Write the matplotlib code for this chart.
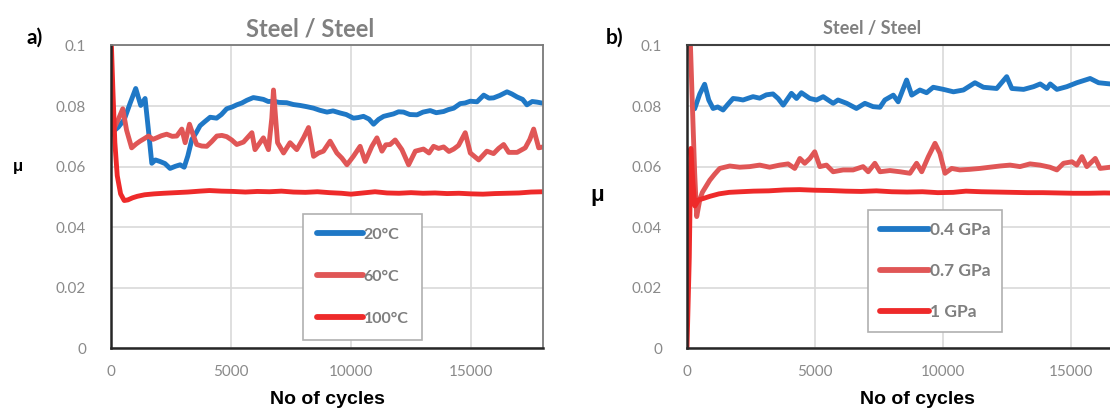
import matplotlib.pyplot as plt

# ---- data: (cycles, mu) ----
a_20C = [(0, 0.071), (300, 0.073), (550, 0.0755), (800, 0.081), (1030, 0.0858), (1240, 0.0802),
         (1420, 0.0825), (1560, 0.072), (1700, 0.0611), (1850, 0.0622), (2040, 0.0617), (2250, 0.0610),
         (2460, 0.0594), (2680, 0.0601), (2880, 0.0606), (3050, 0.0598), (3200, 0.0635), (3370, 0.0690),
         (3550, 0.0712), (3710, 0.0735), (3900, 0.0748), (4130, 0.0763), (4400, 0.0760), (4600, 0.0772),
         (4820, 0.0791), (5050, 0.0797), (5240, 0.0804), (5450, 0.0810), (5660, 0.0819), (5930, 0.0828),
         (6150, 0.0825), (6350, 0.0822), (6550, 0.0815), (6770, 0.0816), (7000, 0.0812), (7320, 0.0811),
         (7600, 0.0805), (7880, 0.0802), (8150, 0.0798), (8440, 0.0793), (8700, 0.0786), (9000, 0.0780),
         (9250, 0.0784), (9550, 0.0777), (9800, 0.0772), (10100, 0.0760), (10300, 0.0762), (10520, 0.0766),
         (10750, 0.0757), (10940, 0.0740), (11150, 0.0756), (11360, 0.0766), (11560, 0.0770), (11770, 0.0774),
         (11980, 0.0781), (12190, 0.0780), (12450, 0.0772), (12750, 0.0771), (13000, 0.0780), (13300, 0.0785),
         (13550, 0.0778), (13860, 0.0782), (14050, 0.0788), (14280, 0.0793), (14550, 0.0808), (14750, 0.0810),
         (14970, 0.0816), (15250, 0.0814), (15530, 0.0836), (15750, 0.0826), (15940, 0.0827), (16200, 0.0835),
         (16500, 0.0847), (16700, 0.0840), (16920, 0.0830), (17150, 0.0822), (17330, 0.0804), (17550, 0.0815),
         (17750, 0.0813), (17950, 0.0810)]

a_60C = [(0, 0.0705), (150, 0.073), (300, 0.0755), (490, 0.0791), (650, 0.072), (860, 0.0662), (1050, 0.0675),
         (1210, 0.0684), (1380, 0.0692), (1560, 0.0701), (1750, 0.0690), (1900, 0.0695), (2100, 0.0702),
         (2320, 0.0707), (2550, 0.0700), (2740, 0.0701), (2950, 0.0724), (3090, 0.0679), (3270, 0.0740),
         (3420, 0.0705), (3570, 0.0673), (3780, 0.0668), (3990, 0.0667), (4200, 0.0683), (4410, 0.0701),
         (4620, 0.0703), (4820, 0.0699), (5030, 0.0688), (5240, 0.0673), (5520, 0.0681), (5870, 0.0712),
         (6000, 0.0656), (6350, 0.0695), (6560, 0.0656), (6700, 0.0760), (6770, 0.0853), (6860, 0.0760),
         (6940, 0.0679), (7190, 0.0645), (7460, 0.0679), (7740, 0.0656), (8020, 0.0695), (8230, 0.0729),
         (8440, 0.0634), (8650, 0.0645), (8850, 0.0651), (9130, 0.0684), (9410, 0.0645), (9620, 0.0628),
         (9830, 0.0606), (10100, 0.0634), (10380, 0.0667), (10590, 0.0617), (10870, 0.0667), (11080, 0.0695),
         (11290, 0.0651), (11450, 0.0672), (11630, 0.0673), (11840, 0.0688), (12120, 0.0656), (12400, 0.0606),
         (12680, 0.0651), (13020, 0.0658), (13250, 0.0645), (13440, 0.0667), (13650, 0.0660), (13860, 0.0665),
         (14080, 0.0650), (14280, 0.0658), (14480, 0.0670), (14760, 0.0712), (14970, 0.0645), (15320, 0.0622),
         (15660, 0.0651), (15940, 0.0643), (16150, 0.0660), (16360, 0.0673), (16570, 0.0647), (16920, 0.0647),
         (17260, 0.0662), (17450, 0.0690), (17610, 0.0724), (17820, 0.0662), (18000, 0.0665)]

a_100C = [(0, 0.104), (80, 0.085), (160, 0.068), (260, 0.057), (400, 0.051), (550, 0.0488), (700, 0.0490),
          (900, 0.0497), (1100, 0.0502), (1400, 0.0507), (1800, 0.0510), (2200, 0.0512), (2700, 0.0514),
          (3200, 0.0516), (3700, 0.0519), (4100, 0.0521), (4600, 0.0519), (5100, 0.0518), (5600, 0.0516),
          (6100, 0.0518), (6600, 0.0517), (7100, 0.0519), (7600, 0.0516), (8100, 0.0515), (8600, 0.0517),
          (9100, 0.0514), (9600, 0.0512), (10000, 0.0509), (10500, 0.0513), (11000, 0.0517), (11500, 0.0513),
          (12000, 0.0512), (12500, 0.0514), (13000, 0.0512), (13500, 0.0513), (14000, 0.0511), (14500, 0.0512),
          (15000, 0.0510), (15500, 0.0509), (16000, 0.0511), (16500, 0.0512), (17000, 0.0513), (17500, 0.0516),
          (18000, 0.0517)]

b_04GPa = [(300, 0.0791), (500, 0.0840), (690, 0.0872), (850, 0.0820), (1020, 0.0792), (1200, 0.0797),
           (1410, 0.0787), (1600, 0.0806), (1800, 0.0825), (2000, 0.0823), (2190, 0.0820), (2400, 0.0826),
           (2580, 0.0831), (2840, 0.0826), (3100, 0.0837), (3360, 0.0840), (3560, 0.0825), (3760, 0.0803),
           (4080, 0.0842), (4280, 0.0825), (4470, 0.0844), (4800, 0.0825), (5060, 0.0820), (5320, 0.0831),
           (5710, 0.0809), (5900, 0.0820), (6240, 0.0809), (6620, 0.0792), (6950, 0.0809), (7270, 0.0798),
           (7540, 0.0796), (7730, 0.0820), (8060, 0.0836), (8250, 0.0814), (8580, 0.0886), (8780, 0.0836),
           (9100, 0.0853), (9360, 0.0844), (9620, 0.0862), (10020, 0.0855), (10410, 0.0847), (10800, 0.0853),
           (11250, 0.0877), (11580, 0.0862), (12100, 0.0858), (12490, 0.0897), (12690, 0.0858), (13150, 0.0855),
           (13540, 0.0864), (13800, 0.0873), (14060, 0.0858), (14190, 0.0873), (14450, 0.0855), (14840, 0.0864),
           (15230, 0.0877), (15750, 0.0891), (16080, 0.0877), (16530, 0.0873), (17000, 0.0880), (17500, 0.0875),
           (18000, 0.0878)]

b_07GPa = [(120, 0.104), (220, 0.078), (300, 0.058), (380, 0.0435), (500, 0.049), (600, 0.0515), (890, 0.0555),
           (1080, 0.0575), (1280, 0.0594), (1670, 0.0602), (2060, 0.0598), (2450, 0.0600), (2840, 0.0605),
           (3230, 0.0598), (3620, 0.0605), (3950, 0.0609), (4210, 0.0594), (4410, 0.0627), (4600, 0.0611),
           (4800, 0.0627), (4990, 0.0649), (5190, 0.0600), (5450, 0.0605), (5710, 0.0583), (6100, 0.0589),
           (6490, 0.0589), (6880, 0.0600), (7080, 0.0583), (7340, 0.0611), (7540, 0.0583), (7930, 0.0587),
           (8320, 0.0583), (8710, 0.0578), (8970, 0.0611), (9170, 0.0583), (9430, 0.0633), (9690, 0.0677),
           (9880, 0.0644), (10080, 0.0578), (10340, 0.0594), (10660, 0.0589), (11050, 0.0591), (11440, 0.0594),
           (11830, 0.0598), (12230, 0.0602), (12620, 0.0605), (13010, 0.0600), (13400, 0.0609), (13790, 0.0605),
           (14180, 0.0598), (14450, 0.0589), (14710, 0.0611), (15040, 0.0616), (15230, 0.0605), (15430, 0.0633),
           (15620, 0.0600), (15950, 0.0627), (16140, 0.0594), (16540, 0.0598), (17000, 0.0602), (17500, 0.0598),
           (18000, 0.0600)]

b_1GPa = [(0, 0.0), (90, 0.030), (150, 0.066), (230, 0.055), (310, 0.047), (450, 0.0490), (650, 0.0495),
          (900, 0.0502), (1250, 0.0510), (1650, 0.0515), (2100, 0.0517), (2600, 0.0519), (3200, 0.0520),
          (3800, 0.0523), (4400, 0.0524), (5000, 0.0522), (5600, 0.0521), (6200, 0.0519), (6800, 0.0518),
          (7400, 0.0520), (8000, 0.0517), (8600, 0.0516), (9200, 0.0517), (9800, 0.0514), (10400, 0.0515),
          (10900, 0.0519), (11500, 0.0517), (12100, 0.0516), (12700, 0.0515), (13300, 0.0514), (13900, 0.0514),
          (14500, 0.0513), (15100, 0.0512), (15700, 0.0512), (16300, 0.0513), (17000, 0.0512), (18000, 0.0513)]

x_ticks = [0, 5000, 10000, 15000]
y_ticks = [0, 0.02, 0.04, 0.06, 0.08, 0.1]
y_ticklabels = ["0", "0.02", "0.04", "0.06", "0.08", "0.1"]

BLUE = "#1f78c6"
RED_LIGHT = "#e05656"
RED = "#ee2a2a"
GREY_TXT = "#8a8a8a"

fig = plt.figure(figsize=(11.1, 4.09), dpi=100)
ax_a = fig.add_axes([0.1, 0.1484, 0.3892, 0.7404])
ax_b = fig.add_axes([0.6189, 0.1484, 0.4151, 0.7404])


def draw(ax, series, labels, colors):
    for data, lab, col in zip(series, labels, colors):
        xs = [p[0] for p in data]
        ys = [p[1] for p in data]
        ax.plot(xs, ys, color=col, lw=3.5, label=lab, solid_capstyle="round", solid_joinstyle="round")
    ax.set_xlim(0, 18000)
    ax.set_ylim(0, 0.1)
    ax.set_xticks(x_ticks)
    ax.set_xticklabels([str(t) for t in x_ticks])
    ax.set_yticks(y_ticks)
    ax.set_yticklabels(y_ticklabels)
    ax.grid(True, color="#d9d9d9", lw=1.2)
    ax.set_axisbelow(True)
    ax.tick_params(length=0, labelsize=11, labelcolor=GREY_TXT, pad=18)
    ax.tick_params(axis="x", pad=12)
    for lab in ax.get_xticklabels() + ax.get_yticklabels():
        lab.set_family("Lato")
    ax.set_xlabel("No of cycles", fontsize=14, fontweight="bold", family="Liberation Sans", labelpad=9)


draw(ax_a, [a_20C, a_60C, a_100C], ["20°C", "60°C", "100°C"], [BLUE, RED_LIGHT, RED])
draw(ax_b, [b_04GPa, b_07GPa, b_1GPa], ["0.4 GPa", "0.7 GPa", "1 GPa"], [BLUE, RED_LIGHT, RED])

# spines
for ax in (ax_a, ax_b):
    for s in ["left", "bottom"]:
        ax.spines[s].set_color("#262626")
        ax.spines[s].set_linewidth(1.8)
for s in ["top", "right"]:
    ax_a.spines[s].set_color("#7a7a7a")
    ax_a.spines[s].set_linewidth(1.3)
ax_b.spines["top"].set_color("#404040")
ax_b.spines["top"].set_linewidth(1.5)

# legends
leg_a = ax_a.legend(loc="upper left", bbox_to_anchor=(0.426, 0.47), fancybox=False, edgecolor="#b0b0b0",
                    framealpha=1, handlelength=2.9, handletextpad=0.05, labelspacing=1.75, borderpad=0.85,
                    prop={"family": "Lato", "weight": "bold", "size": 11.5})
leg_b = ax_b.legend(loc="upper left", bbox_to_anchor=(0.374, 0.486), fancybox=False, edgecolor="#b0b0b0",
                    framealpha=1, handlelength=2.8, handletextpad=0.05, labelspacing=1.45, borderpad=0.7,
                    prop={"family": "Lato", "weight": "bold", "size": 12.5})
for leg in (leg_a, leg_b):
    leg.get_frame().set_linewidth(1.2)
    for t in leg.get_texts():
        t.set_color("#7f7f7f")
    for h in leg.get_lines():
        h.set_linewidth(4.2)

# titles and labels
fig.text(0.279, 0.93, "Steel / Steel", ha="center", va="center", fontsize=17, fontweight="bold",
         color="#808080", family="Lato")
fig.text(0.786, 0.93, "Steel / Steel", ha="center", va="center", fontsize=13, fontweight="bold",
         color="#808080", family="Lato")
fig.text(0.031, 0.907, "a)", ha="center", va="center", fontsize=15, fontweight="bold", family="Lato")
fig.text(0.554, 0.907, "b)", ha="center", va="center", fontsize=15, fontweight="bold", family="Lato")
fig.text(0.016, 0.594, "μ", ha="center", va="center", fontsize=12, fontweight="bold", family="Liberation Sans")
fig.text(0.538, 0.523, "μ", ha="center", va="center", fontsize=16, fontweight="bold", family="Liberation Sans")

fig.savefig("out.png", dpi=100)
